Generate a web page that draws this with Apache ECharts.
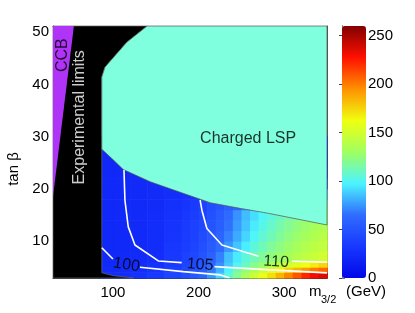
<!DOCTYPE html>
<html><head><meta charset="utf-8">
<script src="https://cdn.jsdelivr.net/npm/echarts@6/dist/echarts.min.js"></script>
<style>html,body{margin:0;padding:0;background:#fff}#c{width:415px;height:313px}</style>
</head><body><div id="c"></div>
<script>
// ---- data ----
const xTicks = [100, 200, 300];
const yTicks = [10, 20, 30, 40, 50];
const cbTicks = [0, 50, 100, 150, 200, 250];

const mEdges = [85, 100, 120, 140, 160, 180, 190, 200, 210, 220, 230, 240, 250, 260, 270, 280, 290, 300, 310, 320, 330, 340, 350, 360];
const tbEdges = [2.9, 4, 5, 6, 8, 10, 12, 14, 16, 18, 20, 22, 24, 26, 30];
// rows bottom -> top, columns left -> right (value in GeV)
const heatRow0  = [25, 25, 28, 33, 40, 47, 52, 60, 75, 90, 105, 120, 135, 148, 160, 172, 185, 198, 210, 222, 230, 236, 240];
const heatRow1  = [24, 24, 26, 30, 37, 43, 48, 55, 68, 82, 98, 115, 125, 135, 145, 155, 165, 175, 185, 192, 200, 205, 210];
const heatRow2  = [23, 23, 25, 28, 34, 40, 44, 52, 62, 74, 88, 100, 110, 120, 128, 136, 143, 150, 156, 162, 168, 174, 178];
const heatRow3  = [23, 23, 24, 26, 32, 38, 42, 50, 58, 70, 85, 95, 105, 112, 118, 124, 128, 132, 138, 142, 146, 150, 152];
const heatRow4  = [22, 22, 23, 25, 31, 36, 40, 47, 55, 64, 75, 86, 96, 105, 112, 118, 123, 128, 133, 137, 141, 144, 146];
const heatRow5  = [22, 22, 23, 25, 30, 35, 39, 45, 52, 60, 70, 80, 90, 99, 106, 112, 118, 123, 128, 132, 136, 140, 142];
const heatRow6  = [22, 22, 23, 25, 29, 34, 38, 43, 50, 57, 66, 76, 86, 95, 102, 108, 114, 119, 124, 128, 132, 135, 137];
const heatRow7  = [22, 22, 23, 25, 28, 32, 36, 41, 48, 55, 64, 74, 84, 92, 99, 105, 110, 115, 120, 124, 127, 130, 132];
const heatRow8  = [22, 22, 23, 24, 27, 30, 34, 38, 45, 50, 56, 62, 70, 78, 85, 90, 95, 100, 105, 110, 114, 118, 120];
const heatRow9  = [22, 22, 23, 24, 26, 28, 30, 33, 36, 40, 44, 48, 52, 56, 60, 64, 68, 72, 76, 80, 84, 88, 92];
const heatRow10 = [22, 22, 23, 24, 25, 26, 27, 28, 30, 32, 34, 36, 38, 40, 42, 44, 46, 48, 50, 52, 54, 56, 58];
const heatRow11 = [22, 22, 23, 23, 24, 24, 24, 25, 25, 25, 26, 26, 26, 27, 27, 27, 28, 28, 28, 28, 29, 29, 29];
const heatRow12 = [22, 22, 22, 22, 22, 22, 22, 22, 22, 22, 22, 22, 22, 22, 22, 22, 22, 22, 22, 22, 22, 22, 22];
const heatRow13 = [22, 22, 22, 22, 22, 22, 22, 22, 22, 22, 22, 22, 22, 22, 22, 22, 22, 22, 22, 22, 22, 22, 22];
const heatRows = [heatRow0, heatRow1, heatRow2, heatRow3, heatRow4, heatRow5, heatRow6,
                  heatRow7, heatRow8, heatRow9, heatRow10, heatRow11, heatRow12, heatRow13];

const ccbRegion = [[30, 51.2], [54.4, 51.2], [30, 18.5]];
const expRegion = [[30, 2.9], [124, 2.9], [100, 3.35], [87, 3.9], [87, 41.4], [90.7, 43.3],
                   [116.3, 48.1], [140, 51.2], [30, 51.2]];
const lspRegion = [[87, 27.6], [100, 25.6], [112, 23.7], [143.5, 21.35], [182, 19.13],
                   [213.5, 17.33], [250, 16.2], [281.6, 15.3], [350, 13.06], [350, 51.2],
                   [140, 51.2], [116.3, 48.1], [90.7, 43.3], [87, 41.4]];

const contour100a = [[87, 8.7], [100, 6.55]];
const contour100b = [[131.6, 4.97], [182.2, 4.12], [225.4, 3.49], [236, 2.95]];
const contour105a = [[112.9, 23.6], [114, 17.8], [117.9, 12.7], [125.7, 9.23], [153, 6.17], [180.3, 5.85]];
const contour105b = [[218.5, 5.08], [283.6, 4.45], [350, 3.88]];
const contour110a = [[201.8, 17.85], [203.9, 15.9], [209.7, 12.4], [227.3, 9.23], [270, 7.05]];
const contour110b = [[309, 6.1], [350, 5.95]];

const contourLabels = [[115.8, 5.41, '100'], [201.8, 5.41, '105'], [290.6, 5.98, '110']];
const regionLabels = [[41.5, 45.6, 'CCB'], [61.4, 33.7, 'Experimental limits'], [257.9, 29.7, 'Charged LSP']];

// ---- build ----
const FONT = 'Liberation Sans, Arial, Helvetica, sans-serif';
const XMIN = 30, XMAX = 350, YMIN = 2.9, YMAX = 51.2;

const heatData = [];
heatRows.forEach((row, r) => {
  row.forEach((v, c) => {
    heatData.push([mEdges[c], mEdges[c + 1], tbEdges[r], tbEdges[r + 1], v]);
  });
});

function polySeries(points, fill, stroke, z) {
  return {
    type: 'custom', z: z, silent: true,
    data: [points[0]],
    renderItem: (params, api) => ({
      type: 'polygon',
      shape: { points: points.map(p => api.coord(p)) },
      style: { fill: fill, stroke: stroke, lineWidth: stroke ? 0.7 : 0 }
    })
  };
}
function lineSeries(pts) {
  return {
    type: 'line', data: pts, showSymbol: false, symbol: 'none', z: 5, silent: true,
    lineStyle: { color: '#ffffff', width: 1.6 }, clip: true
  };
}

const contourRot = [-9, -4, -4];
const regionStyle = [
  { color: '#000', rotate: 90, fontSize: 16 },
  { color: '#fff', rotate: 90, fontSize: 16 },
  { color: '#000', rotate: 0, fontSize: 16 }
];

const option = {
  animation: false,
  backgroundColor: '#ffffff',
  textStyle: { fontFamily: FONT },
  grid: [
    { left: 53, top: 26, width: 274, height: 252 },
    { left: 342, top: 26, width: 24, height: 252 }
  ],
  xAxis: [
    { type: 'value', gridIndex: 0, min: XMIN, max: XMAX, position: 'bottom',
      axisLine: { show: true, lineStyle: { color: '#333', width: 1 } },
      axisTick: { show: true, inside: true, length: 4, customValues: xTicks, lineStyle: { color: '#333' } },
      axisLabel: { customValues: xTicks, color: '#000', fontSize: 15, fontFamily: FONT, margin: 7 },
      splitLine: { show: false } },
    { type: 'value', gridIndex: 0, min: XMIN, max: XMAX, position: 'top',
      axisLine: { show: true, lineStyle: { color: '#333', width: 1 } },
      axisTick: { show: true, inside: true, length: 4, customValues: xTicks, lineStyle: { color: '#333' } },
      axisLabel: { show: false }, splitLine: { show: false } },
    { type: 'value', gridIndex: 1, min: 0, max: 1, show: false }
  ],
  yAxis: [
    { type: 'value', gridIndex: 0, min: YMIN, max: YMAX, position: 'left',
      axisLine: { show: true, lineStyle: { color: '#333', width: 1 } },
      axisTick: { show: true, inside: true, length: 4, customValues: yTicks, lineStyle: { color: '#333' } },
      axisLabel: { customValues: yTicks, color: '#000', fontSize: 15, fontFamily: FONT, margin: 4 },
      splitLine: { show: false } },
    { type: 'value', gridIndex: 0, min: YMIN, max: YMAX, position: 'right',
      axisLine: { show: true, lineStyle: { color: '#555', width: 1 } },
      axisTick: { show: true, inside: true, length: 4, customValues: yTicks, lineStyle: { color: '#555' } },
      axisLabel: { show: false }, splitLine: { show: false } },
    { type: 'value', gridIndex: 1, min: 0, max: 260, position: 'right',
      axisLine: { show: true, lineStyle: { color: '#222', width: 1 } },
      axisTick: { show: true, inside: true, length: 3, customValues: cbTicks, lineStyle: { color: '#444' } },
      axisLabel: { customValues: cbTicks, color: '#000', fontSize: 15, fontFamily: FONT, margin: 2 },
      splitLine: { show: false } },
    { type: 'value', gridIndex: 1, min: 0, max: 260, position: 'left',
      axisLine: { show: true, lineStyle: { color: '#777', width: 1 } },
      axisTick: { show: true, inside: true, length: 3, customValues: cbTicks, lineStyle: { color: '#777' } },
      axisLabel: { show: false }, splitLine: { show: false } }
  ],
  visualMap: {
    type: 'continuous', min: 0, max: 260, seriesIndex: 0, dimension: 4,
    left: 342, top: 26, itemWidth: 24, itemHeight: 252, padding: 0,
    calculable: false, hoverLink: false, orient: 'vertical', text: null,
    textStyle: { color: 'transparent', fontSize: 0 },
    inRange: { color: ['#0008e8', '#1838ff', '#2f6cff', '#4cf4ff', '#a0ff60', '#f0ff10', '#ff9000', '#ff1000', '#800000'] }
  },
  graphic: [
    { type: 'text', x: 14, y: 169, rotation: Math.PI / 2, silent: true,
      style: { text: 'tan β', font: '15px ' + FONT, fill: '#000', align: 'center', verticalAlign: 'middle' } },
    { type: 'text', x: 309, y: 292, silent: true,
      style: { text: 'm', font: '15px ' + FONT, fill: '#000', align: 'left', verticalAlign: 'middle' } },
    { type: 'text', x: 321, y: 300, silent: true,
      style: { text: '3/2', font: '11px ' + FONT, fill: '#000', align: 'left', verticalAlign: 'middle' } },
    { type: 'text', x: 346, y: 292, silent: true,
      style: { text: '(GeV)', font: '15px ' + FONT, fill: '#000', align: 'left', verticalAlign: 'middle' } }
  ],
  series: [
    {
      type: 'custom', z: 1, silent: true,
      dimensions: ['m0', 'm1', 't0', 't1', 'v'],
      encode: { x: [0, 1], y: [2, 3] },
      data: heatData,
      renderItem: (params, api) => {
        const x0 = Math.max(api.value(0), XMIN), x1 = Math.min(api.value(1), XMAX);
        const y0 = Math.max(api.value(2), YMIN), y1 = Math.min(api.value(3), YMAX);
        const p0 = api.coord([x0, y0]), p1 = api.coord([x1, y1]);
        return { type: 'rect',
          shape: { x: p0[0], y: p1[1], width: p1[0] - p0[0] + 0.6, height: p0[1] - p1[1] + 0.6 },
          style: { fill: api.visual('color') } };
      }
    },
    polySeries(expRegion, '#000000', '#666666', 2),
    polySeries(ccbRegion, '#b034f8', null, 3),
    polySeries(lspRegion, '#7fffdd', '#555555', 3),
    lineSeries(contour100a), lineSeries(contour100b),
    lineSeries(contour105a), lineSeries(contour105b),
    lineSeries(contour110a), lineSeries(contour110b),
    {
      type: 'scatter', z: 6, silent: true, symbolSize: 0,
      data: contourLabels.map((d, i) => ({
        value: [d[0], d[1]],
        label: { show: true, position: 'inside', formatter: d[2], rotate: contourRot[i],
                 color: '#000', fontSize: 16, fontFamily: FONT }
      }))
    },
    {
      type: 'scatter', z: 6, silent: true, symbolSize: 0,
      data: regionLabels.map((d, i) => ({
        value: [d[0], d[1]],
        label: { show: true, position: 'inside', formatter: d[2], rotate: regionStyle[i].rotate,
                 color: regionStyle[i].color, fontSize: regionStyle[i].fontSize, fontFamily: FONT }
      }))
    }
  ]
};
const chart = echarts.init(document.getElementById('c'), null, { renderer: 'canvas' });
chart.setOption(option);
</script>
</body></html>
